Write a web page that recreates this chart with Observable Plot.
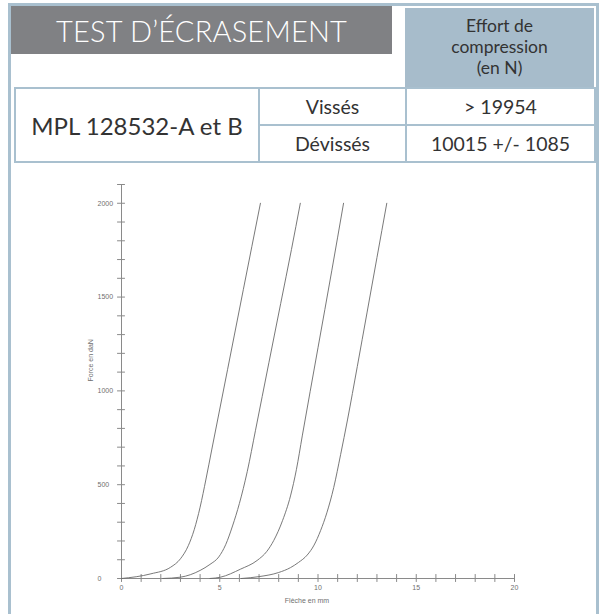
<!DOCTYPE html>
<html>
<head>
<meta charset="utf-8">
<script src="https://cdn.jsdelivr.net/npm/d3@7"></script>
<script src="https://cdn.jsdelivr.net/npm/@observablehq/plot@0.6"></script>
<style>
  html, body { margin: 0; padding: 0; background: #fff; }
  #page { position: relative; width: 604px; height: 614px; overflow: hidden; background: #fff; font-family: Lato, "Open Sans", sans-serif; }
  #frame { position: absolute; left: 8px; top: 3px; width: 585px; height: 640px; border: 3px solid #a9c0cf; }
  .box { position: absolute; box-sizing: border-box; display: flex; align-items: center; justify-content: center; text-align: center; color: #333; }
  #title { left: 11px; top: 6px; width: 381px; height: 48px; background: #808184; color: #fff; font-size: 29px; font-weight: 300; letter-spacing: 0.2px; padding-top: 1px; }
  #head { left: 405px; top: 8px; width: 189px; height: 80px; background: #a7bccb; font-size: 17.5px; line-height: 21px; color: #333; padding-bottom: 4px; }
  .cell { border: 2px solid #a9c0cf; }
  #chart { position: absolute; left: 0; top: 170px; }
</style>
</head>
<body>
<div id="page">
  <div id="frame"></div>
  <div id="title" class="box"></div>
  <div id="head" class="box"></div>
  <div id="table"></div>
  <div id="chart"></div>
</div>
<script>
// ---- header texts ----
const titleText = "TEST D’ÉCRASEMENT";
const headLines = ["Effort de", "compression", "(en N)"];
const productName = "MPL 128532-A et B";
const conditions = ["Vissés", "Dévissés"];
const results = ["> 19954", "10015 +/- 1085"];

// ---- chart data (Flèche en mm, Force en daN) ----
const curve1X = [0, 1.5, 2.5, 3.0, 3.4, 3.7, 4.0, 4.3, 4.6, 5.4, 6.2, 7.07];
const curve1Y = [0, 25, 60, 105, 175, 260, 380, 530, 690, 1115, 1540, 2000];
const curve2X = [2.1, 3.0, 4.0, 4.5, 4.95, 5.3, 5.65, 6.0, 6.4, 6.82, 7.5, 8.1, 8.65, 9.1];
const curve2Y = [0, 7, 43, 75, 115, 180, 280, 400, 570, 790, 1150, 1465, 1754, 2000];
const curve3X = [4.5, 5.04, 6.06, 6.9, 7.4, 7.75, 8.2, 8.6, 8.9, 9.2, 10.0, 10.7, 11.3];
const curve3Y = [0, 7, 50, 96, 145, 203, 310, 440, 580, 760, 1230, 1640, 2000];
const curve4X = [6.1, 7.0, 8.0, 8.6, 9.0, 9.45, 9.8, 10.13, 10.45, 10.8, 11.15, 11.5, 12.0, 12.5, 13.0, 13.5];
const curve4Y = [0, 10, 32, 58, 85, 125, 178, 255, 350, 485, 660, 845, 1130, 1420, 1710, 2000];

const xTicks = [0,1,2,3,4,5,6,7,8,9,10,11,12,13,14,15,16,17,18,19,20];
const xLabels = [0, 5, 10, 15, 20];
const yTicks = [0,100,200,300,400,500,600,700,800,900,1000,1100,1200,1300,1400,1500,1600,1700,1800,1900,2000,2100];
const yLabels = [0, 500, 1000, 1500, 2000];
const xTitle = "Flèche en mm";
const yTitle = "Force en daN";

// ---- header layout ----
document.getElementById("title").textContent = titleText;
document.getElementById("head").innerHTML = headLines.join("<br>");
const table = document.getElementById("table");
function cell(l, t, w, h, txt, fs) {
  const d = document.createElement("div");
  d.className = "box cell";
  Object.assign(d.style, {left: l + "px", top: t + "px", width: w + "px", height: h + "px", fontSize: fs + "px"});
  d.textContent = txt;
  table.appendChild(d);
}
cell(14, 87, 246, 76, productName, 24);
cell(258, 87, 149, 39, conditions[0], 19.5);
cell(258, 124, 149, 39, conditions[1], 19.5);
cell(405, 87, 191, 39, results[0], 19.5);
cell(405, 124, 191, 39, results[1], 19.5);

// ---- chart ----
const curves = [[curve1X, curve1Y], [curve2X, curve2Y], [curve3X, curve3Y], [curve4X, curve4Y]];
const rows = curves.flatMap(([xs, ys], i) => xs.map((x, j) => ({id: i, x, y: ys[j]})));
const axisColor = "#8a8a8a";
const labelColor = "#6f6f6f";
const font = "Liberation Sans, Arial, sans-serif";

const chart = Plot.plot({
  width: 604,
  height: 444,
  marginLeft: 121,
  marginRight: 90,
  marginTop: 14,
  marginBottom: 36,
  style: {fontFamily: font, background: "transparent"},
  x: {domain: [0, 20], axis: null},
  y: {domain: [0, 2100], axis: null},
  marks: [
    Plot.ruleY([0], {stroke: axisColor, strokeWidth: 1}),
    Plot.ruleX([0], {stroke: axisColor, strokeWidth: 1}),
    Plot.ruleX(xTicks, {x: d => d, y1: () => -21, y2: () => 21, stroke: axisColor, strokeWidth: 1}),
    Plot.ruleY(yTicks, {y: d => d, x1: () => -0.2, x2: () => 0.2, stroke: axisColor, strokeWidth: 1}),
    Plot.line(rows, {x: "x", y: "y", z: "id", stroke: "#6a6a6a", strokeWidth: 0.9, curve: "monotone-x"}),
    Plot.text(yLabels, {y: d => d, text: d => String(d), frameAnchor: "left", dx: -24, textAnchor: "start", fontSize: 7, fill: labelColor}),
    Plot.text(xLabels, {x: d => d, text: d => String(d), frameAnchor: "bottom", dy: 11, fontSize: 7, fill: labelColor}),
    Plot.text([yTitle], {text: d => d, frameAnchor: "left", dx: -31, rotate: -90, fontSize: 7, fill: labelColor}),
    Plot.text([xTitle], {text: d => d, frameAnchor: "bottom", dx: -11, dy: 24, fontSize: 7, fill: labelColor})
  ]
});
document.getElementById("chart").appendChild(chart);
</script>
</body>
</html>
